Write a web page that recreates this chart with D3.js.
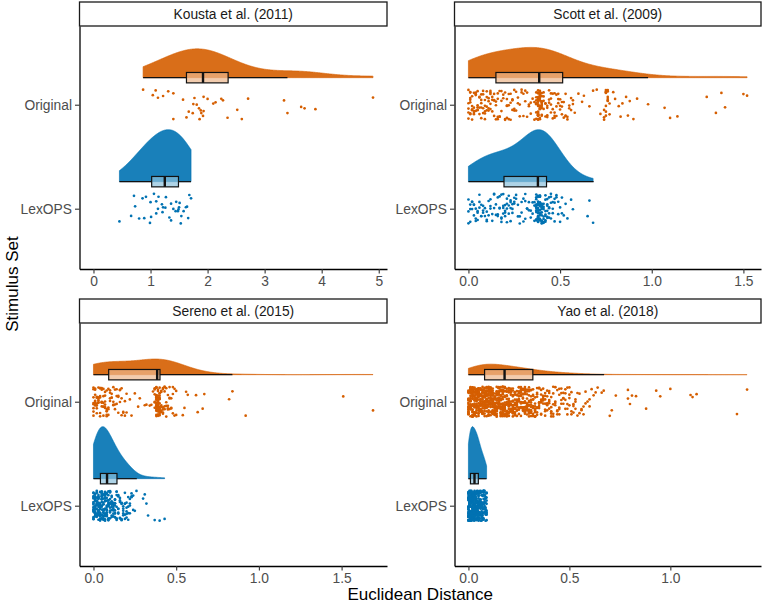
<!DOCTYPE html>
<html>
<head>
<meta charset="utf-8">
<script src="https://cdn.jsdelivr.net/npm/d3@7"></script>
<style>
  body { margin: 0; background: #fff; }
  svg text { font-family: "Liberation Sans", Arial, sans-serif; }
</style>
</head>
<body>
<div id="chart"></div>
<script>
const studies = ["Kousta et al. (2011)", "Scott et al. (2009)", "Sereno et al. (2015)", "Yao et al. (2018)"];
const sets = ["Original", "LexOPS"];
const setColors = ["#D55E00", "#0072B2"];
const xTicks = [[0, 1, 2, 3, 4, 5], [0, 0.5, 1, 1.5], [0, 0.5, 1, 1.5], [0, 0.5, 1]];

// Kousta: one distance per item
const koustaOriginal = [0.87, 1.04, 1.09, 1.13, 1.22, 1.31, 1.40, 1.40, 1.57, 1.63, 1.67, 1.74, 1.75, 1.77,
  1.81, 1.85, 1.86, 1.88, 1.89, 1.92, 1.93, 1.93, 2.00, 2.10, 2.14, 2.24, 2.27, 2.35, 2.52, 2.60, 2.71,
  3.34, 3.40, 3.64, 3.70, 3.89, 4.90];
const koustaLexops = [0.455, 0.66, 0.71, 0.73, 0.80, 0.86, 0.89, 0.92, 0.99, 1.00, 1.01, 1.06, 1.10, 1.10,
  1.13, 1.14, 1.20, 1.21, 1.22, 1.26, 1.27, 1.33, 1.36, 1.36, 1.40, 1.44, 1.45, 1.48, 1.49, 1.50, 1.51,
  1.53, 1.54, 1.58, 1.62, 1.64, 1.66, 1.68, 1.71];

// bigger sets: [distance, number of items at that distance]
const scottOriginal = [[0, 5], [0.01, 7], [0.02, 5], [0.03, 5], [0.04, 4], [0.05, 5], [0.06, 4], [0.07, 5],
  [0.08, 4], [0.09, 5], [0.1, 4], [0.11, 4], [0.12, 5], [0.13, 3], [0.14, 4],
  [0.15, 3], [0.16, 4], [0.17, 3], [0.18, 3], [0.19, 2], [0.2, 3], [0.21, 4], [0.22, 3], [0.23, 3],
  [0.24, 3], [0.25, 3], [0.26, 2], [0.27, 2],
  [0.28, 2], [0.29, 2], [0.3, 2], [0.31, 2], [0.32, 2], [0.33, 2], [0.34, 2], [0.35, 1], [0.36, 2],
  [0.37, 8], [0.38, 18], [0.39, 18], [0.4, 11],
  [0.41, 4], [0.42, 3], [0.43, 4], [0.44, 3], [0.45, 4], [0.46, 3], [0.47, 4], [0.48, 3], [0.49, 3], [0.5, 3],
  [0.51, 3], [0.52, 2], [0.53, 3], [0.54, 2], [0.55, 2], [0.56, 2], [0.57, 2],
  [0.58, 1], [0.6, 1], [0.62, 1], [0.63, 1], [0.66, 1], [0.68, 1], [0.7, 1], [0.72, 1],
  [0.74, 3], [0.75, 7], [0.76, 6], [0.77, 2],
  [0.79, 1], [0.8, 1], [0.82, 1], [0.83, 1], [0.84, 1], [0.86, 1], [0.87, 1], [0.88, 1], [0.9, 1], [0.92, 1],
  [0.98, 1], [1.07, 1], [1.1, 1], [1.14, 1], [1.3, 1], [1.35, 1], [1.38, 1], [1.4, 1], [1.5, 1], [1.52, 1]];
const scottLexops = [[0, 3], [0.01, 3], [0.02, 3], [0.03, 3], [0.04, 3], [0.05, 3], [0.06, 3], [0.07, 3],
  [0.08, 3], [0.09, 2], [0.1, 3], [0.11, 2], [0.12, 3], [0.13, 2], [0.14, 3], [0.15, 2],
  [0.16, 3], [0.17, 3], [0.18, 4], [0.19, 4], [0.2, 4], [0.21, 4], [0.22, 3], [0.23, 4], [0.24, 3],
  [0.25, 3], [0.26, 2], [0.27, 2],
  [0.28, 2], [0.29, 2], [0.3, 2], [0.31, 3], [0.32, 2], [0.33, 2], [0.34, 2], [0.35, 2], [0.36, 3],
  [0.37, 12], [0.38, 18], [0.39, 17], [0.4, 13],
  [0.41, 7], [0.42, 7], [0.43, 6], [0.44, 5], [0.45, 4], [0.46, 3], [0.47, 3], [0.48, 2], [0.49, 2], [0.5, 2],
  [0.51, 2], [0.52, 1], [0.53, 1], [0.54, 1], [0.56, 1], [0.57, 1],
  [0.65, 1], [0.66, 1], [0.68, 1]];
const serenoOriginal = [[0, 8], [0.01, 7], [0.02, 6], [0.03, 6], [0.04, 6], [0.05, 6], [0.06, 6], [0.07, 6], [0.08, 6],
  [0.09, 4], [0.1, 4], [0.11, 3], [0.12, 4], [0.13, 3], [0.14, 3], [0.15, 3], [0.16, 3], [0.17, 3],
  [0.18, 2], [0.19, 2], [0.2, 2],
  [0.22, 1], [0.23, 1], [0.25, 1], [0.27, 1], [0.28, 1], [0.31, 1], [0.32, 1], [0.34, 1], [0.35, 1], [0.36, 1],
  [0.37, 6], [0.38, 18], [0.39, 21], [0.4, 18],
  [0.41, 6], [0.42, 6], [0.43, 5], [0.44, 4], [0.45, 4], [0.46, 4], [0.47, 3], [0.48, 3], [0.49, 2], [0.5, 2],
  [0.54, 1], [0.55, 1], [0.56, 1], [0.57, 1], [0.62, 1], [0.63, 1], [0.66, 1], [0.67, 1],
  [0.82, 1], [0.84, 1], [0.92, 1], [1.51, 1], [1.69, 1]];
const serenoLexops = [[0, 16], [0.01, 17], [0.02, 17], [0.03, 18],
  [0.04, 17], [0.05, 18], [0.06, 17], [0.07, 16],
  [0.08, 13], [0.09, 12], [0.1, 12], [0.11, 10], [0.12, 10], [0.13, 10],
  [0.14, 7], [0.15, 6], [0.16, 5], [0.17, 5], [0.18, 5], [0.19, 5], [0.2, 5], [0.21, 4], [0.22, 4],
  [0.23, 3], [0.24, 2], [0.25, 1], [0.26, 1],
  [0.3, 1], [0.31, 1], [0.32, 1], [0.33, 1], [0.37, 1], [0.4, 1], [0.43, 1]];
const yaoOriginal = [[0, 21], [0.01, 24], [0.02, 25], [0.03, 25], [0.04, 25], [0.05, 25], [0.06, 25], [0.07, 25],
  [0.08, 25], [0.09, 25], [0.1, 25], [0.11, 24], [0.12, 24], [0.13, 22], [0.14, 21], [0.15, 21],
  [0.16, 21], [0.17, 21],
  [0.18, 20], [0.19, 18], [0.2, 17], [0.21, 17], [0.22, 17], [0.23, 17], [0.24, 15], [0.25, 15], [0.26, 14],
  [0.27, 14], [0.28, 14], [0.29, 13], [0.3, 13], [0.31, 12],
  [0.32, 10], [0.33, 10], [0.34, 8], [0.35, 8], [0.36, 8], [0.37, 7], [0.38, 7], [0.39, 7], [0.4, 6],
  [0.41, 6], [0.42, 5], [0.43, 5], [0.44, 4], [0.45, 5], [0.46, 4], [0.47, 4], [0.48, 4], [0.49, 4], [0.5, 4],
  [0.51, 3], [0.52, 3], [0.53, 3], [0.54, 2], [0.55, 2], [0.56, 2], [0.57, 2], [0.58, 2], [0.59, 1],
  [0.6, 2], [0.61, 1], [0.62, 1], [0.63, 1], [0.64, 1], [0.66, 1], [0.67, 1],
  [0.7, 1], [0.71, 1], [0.73, 1], [0.79, 2], [0.8, 1], [0.81, 1], [0.83, 1], [0.88, 1],
  [0.93, 1], [0.95, 1], [1.0, 1], [1.1, 1], [1.11, 1], [1.13, 1], [1.33, 1], [1.38, 1]];
const yaoLexops = [[0, 30], [0.005, 34], [0.01, 36], [0.015, 27], [0.02, 26], [0.025, 25], [0.03, 24],
  [0.035, 25], [0.04, 25], [0.045, 24], [0.05, 24], [0.055, 15], [0.06, 14], [0.065, 13], [0.07, 12],
  [0.075, 12], [0.08, 11], [0.085, 11], [0.09, 10]];

// boxplot summaries per study, [Original, LexOPS]
const whiskerLow = [[0.87, 0.455], [0, 0], [0, 0], [0, 0]];
const quartile1 = [[1.63, 1.02], [0.15, 0.194], [0.092, 0.042], [0.08, 0.01]];
const medians = [[1.92, 1.25], [0.386, 0.379], [0.385, 0.082], [0.179, 0.03]];
const quartile3 = [[2.36, 1.49], [0.514, 0.426], [0.402, 0.142], [0.319, 0.049]];
const whiskerHigh = [[3.40, 1.71], [0.98, 0.683], [0.84, 0.262], [0.672, 0.089]];

const expand = (pairs) => pairs.flatMap(([v, n]) => d3.range(n).map(() => v));
const distances = [
  [koustaOriginal, koustaLexops],
  [expand(scottOriginal), expand(scottLexops)],
  [expand(serenoOriginal), expand(serenoLexops)],
  [expand(yaoOriginal), expand(yaoLexops)],
];

const width = 763, height = 605;
const cols = [{ x0: 79.5, x1: 387 }, { x0: 454.5, x1: 761 }];
const rows = [{ strip: 2, top: 26, bottom: 269 }, { strip: 299, top: 323, bottom: 566 }];

const svg = d3.select("#chart").append("svg")
  .attr("width", width)
  .attr("height", height);

// gaussian kernel density (bw.nrd0 times adjust), trimmed to the data range
function density(values, adjust) {
  const n = values.length;
  const sd = d3.deviation(values);
  const iqr = d3.quantile(values, 0.75) - d3.quantile(values, 0.25);
  let lo = Math.min(sd, iqr / 1.34);
  if (!lo) lo = sd || 1;
  const bw = adjust * 0.9 * lo * Math.pow(n, -0.2);
  const [min, max] = d3.extent(values);
  const k = 1 / (bw * Math.sqrt(2 * Math.PI) * n);
  return d3.range(512).map((i) => {
    const x = min + (max - min) * i / 511;
    let s = 0;
    for (const v of values) { const u = (x - v) / bw; s += Math.exp(-0.5 * u * u); }
    return [x, s * k];
  });
}

// fixed pseudo-jitter so the page looks the same every time
const jitter = (i, j, s) => {
  const t = Math.sin(i * 78.233 + j * 12.9898 + s * 4.1414) * 43758.5453;
  return t - Math.floor(t) - 0.5;
};

studies.forEach((study, s) => {
  const col = cols[s % 2], row = rows[Math.floor(s / 2)];
  const groups = distances[s];
  const maxVal = d3.max(groups.flat());

  const x = d3.scaleLinear()
    .domain([-0.05 * maxVal, 1.05 * maxVal])
    .range([col.x0, col.x1]);
  // category index: 0 = Original, 1 = LexOPS
  const y = d3.scaleLinear()
    .domain([-0.757, 1.58])
    .range([row.top, row.bottom]);
  const unit = y(1) - y(0);

  const g = svg.append("g");

  // strip
  g.append("rect")
    .attr("x", col.x0).attr("y", row.strip)
    .attr("width", col.x1 - col.x0).attr("height", row.top - row.strip)
    .attr("fill", "#fff").attr("stroke", "#1a1a1a").attr("stroke-width", 1.3);
  g.append("text")
    .attr("x", (col.x0 + col.x1) / 2).attr("y", (row.strip + row.top) / 2)
    .attr("dy", "0.35em").attr("text-anchor", "middle")
    .attr("font-size", 13.8).attr("fill", "#1a1a1a")
    .text(study);

  // clouds
  const dens = groups.map((vals) => density(vals, 2));
  const maxDens = d3.max(dens.flat(), (d) => d[1]);
  groups.forEach((vals, j) => {
    const base = y(j) - 0.26 * unit;
    const area = d3.area()
      .x((d) => x(d[0]))
      .y0(base)
      .y1((d) => base - (d[1] / maxDens) * 0.5 * unit);
    g.append("path")
      .datum(dens[j])
      .attr("d", area)
      .attr("fill", setColors[j])
      .attr("fill-opacity", 0.9)
      .attr("stroke", setColors[j])
      .attr("stroke-opacity", 0.9)
      .attr("stroke-width", 0.7);
  });

  // rain (jittered points)
  groups.forEach((vals, j) => {
    g.append("g").selectAll("circle")
      .data(vals)
      .join("circle")
      .attr("cx", (d) => x(d))
      .attr("cy", (d, i) => y(j) + jitter(i, j, s) * 0.29 * unit)
      .attr("r", 1.35)
      .attr("fill", setColors[j]);
  });

  // boxplots
  groups.forEach((vals, j) => {
    const base = y(j) - 0.26 * unit;
    const hh = 0.05 * unit;
    const bx = g.append("g");
    bx.append("line")
      .attr("x1", x(whiskerLow[s][j])).attr("x2", x(quartile1[s][j]))
      .attr("y1", base).attr("y2", base);
    bx.append("line")
      .attr("x1", x(quartile3[s][j])).attr("x2", x(whiskerHigh[s][j]))
      .attr("y1", base).attr("y2", base);
    bx.selectAll("line").attr("stroke", "#111").attr("stroke-width", 1.2);
    bx.append("rect")
      .attr("x", x(quartile1[s][j])).attr("y", base - hh)
      .attr("width", x(quartile3[s][j]) - x(quartile1[s][j])).attr("height", 2 * hh)
      .attr("fill", d3.interpolateRgb(setColors[j], "#fff")(0.55))
      .attr("fill-opacity", 0.7)
      .attr("stroke", "#111").attr("stroke-width", 1.2);
    bx.append("line")
      .attr("x1", x(medians[s][j])).attr("x2", x(medians[s][j]))
      .attr("y1", base - hh).attr("y2", base + hh)
      .attr("stroke", "#111").attr("stroke-width", 2.4);
  });

  // axes
  const fmt = s === 0 ? d3.format("d") : d3.format(".1f");
  const xAxis = g.append("g")
    .attr("transform", `translate(0,${row.bottom})`)
    .call(d3.axisBottom(x).tickValues(xTicks[s]).tickFormat(fmt).tickSizeInner(4.5).tickSizeOuter(0).tickPadding(3));
  const yAxis = g.append("g")
    .attr("transform", `translate(${col.x0},0)`)
    .call(d3.axisLeft(y).tickValues([0, 1]).tickFormat((i) => sets[i]).tickSizeInner(4.5).tickSizeOuter(0).tickPadding(3));
  [xAxis, yAxis].forEach((ax) => {
    ax.select(".domain").attr("stroke", "#000").attr("stroke-width", 1.3);
    ax.selectAll(".tick line").attr("stroke", "#333").attr("stroke-width", 1.1);
    ax.selectAll(".tick text")
      .attr("fill", "#4d4d4d")
      .attr("font-size", 13.8)
      .attr("font-family", '"Liberation Sans", Arial, sans-serif');
  });
});

// axis titles
svg.append("text")
  .attr("x", (cols[0].x0 + cols[1].x1) / 2).attr("y", 600)
  .attr("text-anchor", "middle").attr("font-size", 17)
  .text("Euclidean Distance");
svg.append("text")
  .attr("transform", `translate(18,${(rows[0].strip + rows[1].bottom) / 2}) rotate(-90)`)
  .attr("text-anchor", "middle").attr("font-size", 17)
  .text("Stimulus Set");
</script>
</body>
</html>
